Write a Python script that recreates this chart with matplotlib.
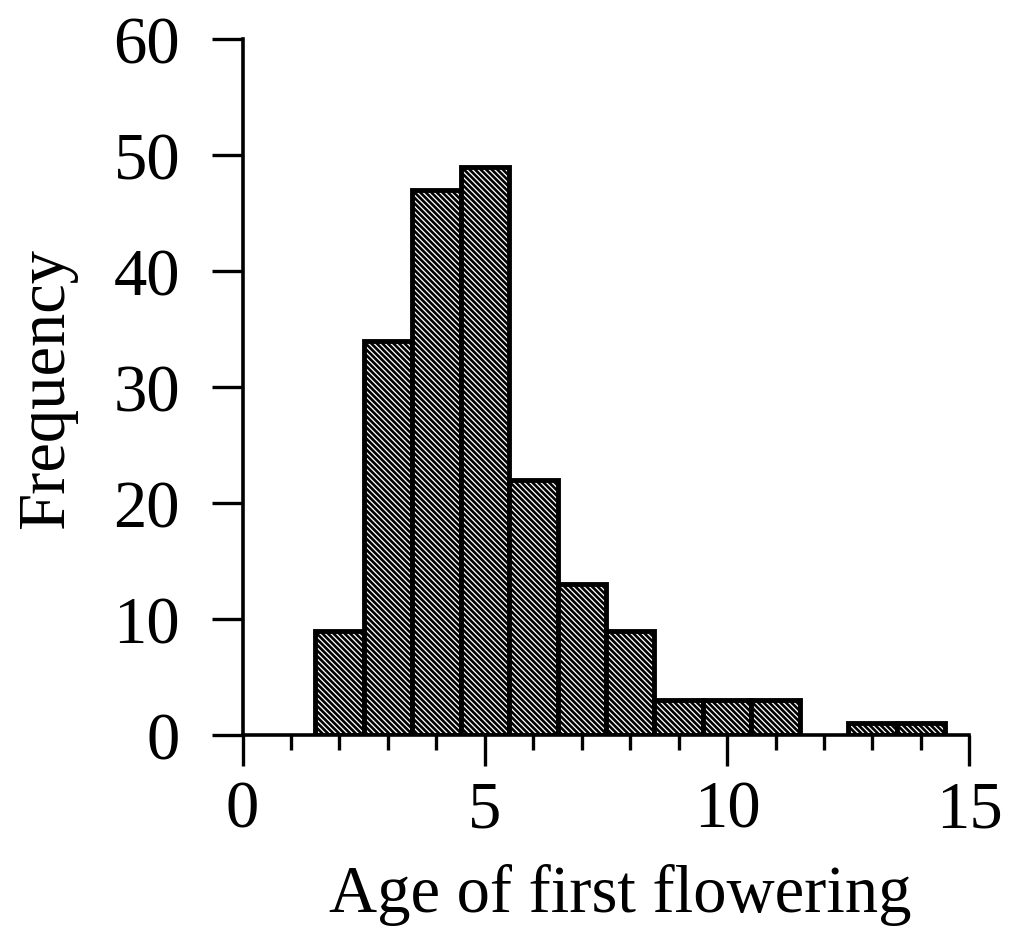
import matplotlib
matplotlib.use('Agg')
import matplotlib.pyplot as plt
from matplotlib.ticker import MultipleLocator

# age of first flowering (bin centres) and counts
ages = [2, 3, 4, 5, 6, 7, 8, 9, 10, 11, 12, 13, 14]
counts = [9, 34, 47, 49, 22, 13, 9, 3, 3, 3, 0, 1, 1]

plt.rcParams['font.family'] = ['Liberation Serif', 'DejaVu Serif']
plt.rcParams['hatch.linewidth'] = 1.9

fig = plt.figure(figsize=(10.15, 9.37), dpi=100)
ax = fig.add_axes([0.239, 0.2145, 0.716, 0.7425])

for a, c in zip(ages, counts):
    if c == 0:
        continue
    ax.bar(a, c, width=1.0, color='white', edgecolor='black', linewidth=3.5,
           hatch='\\\\\\\\\\\\', zorder=2)

ax.set_xlim(0, 15)
ax.set_ylim(0, 60)
ax.spines['top'].set_visible(False)
ax.spines['right'].set_visible(False)
ax.spines['left'].set_linewidth(2.6)
ax.spines['bottom'].set_linewidth(2.6)
ax.spines['bottom'].set_zorder(3)

ax.xaxis.set_major_locator(MultipleLocator(5))
ax.xaxis.set_minor_locator(MultipleLocator(1))
ax.yaxis.set_major_locator(MultipleLocator(10))
ax.tick_params(axis='x', which='major', direction='out', length=22, width=2.4, pad=10, labelsize=48)
ax.tick_params(axis='x', which='minor', direction='out', length=11, width=2.4)
ax.tick_params(axis='y', which='major', direction='out', length=22, width=2.4, pad=23, labelsize=48)

ax.set_xlabel('Age of first flowering', fontsize=48, labelpad=16)
ax.xaxis.label.set_x(0.52)
ax.set_ylabel('Frequency', fontsize=48, labelpad=26)

fig.savefig('out.png', dpi=100)
